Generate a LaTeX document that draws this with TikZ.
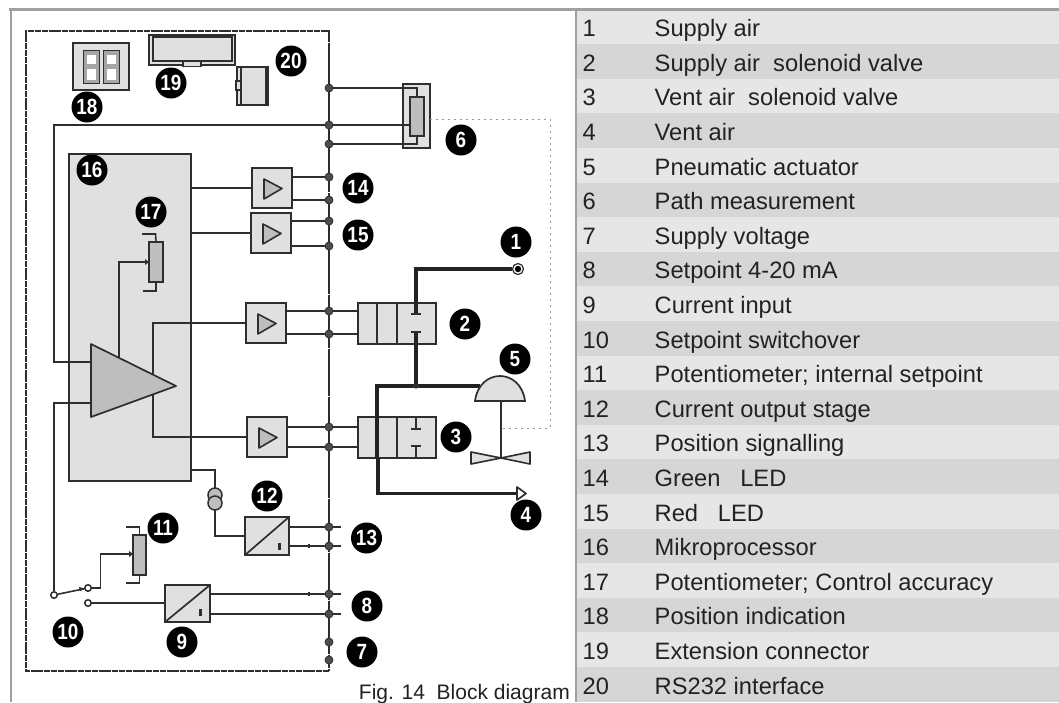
\documentclass[tikz,border=0pt]{standalone}
\usepackage{fontspec}
\setmainfont{Liberation Sans}
\newfontfamily\badgefont[FakeStretch=0.86]{Liberation Sans}
\usetikzlibrary{calc}
\definecolor{ink}{HTML}{2E2E2E}
\definecolor{blk}{HTML}{222222}
\definecolor{lg}{HTML}{E0E0E0}
\definecolor{mg}{HTML}{BEBEBE}
\definecolor{frm}{HTML}{A0A0A0}
\definecolor{rowa}{HTML}{E6E6E6}
\definecolor{rowb}{HTML}{D6D6D6}
\tikzset{
 wire/.style={draw=ink,line width=1.6pt},
 pipe/.style={draw=blk,line width=3.2pt},
 block/.style={draw=ink,line width=1.7pt,fill=lg,rectangle,inner sep=0pt,outer sep=0pt},
 resist/.style={draw=ink,line width=1.7pt,fill=mg,rectangle,inner sep=0pt,outer sep=0pt},
 badge/.style={circle,fill=black,text=white,minimum size=31pt,inner sep=0pt,font=\fontsize{22}{22}\selectfont\badgefont\bfseries},
 term/.style={circle,fill=ink!85,draw=ink,line width=0.8pt,minimum size=8pt,inner sep=0pt},
 openc/.style={circle,fill=white,draw=ink,line width=1.5pt,minimum size=6.5pt,inner sep=0pt},
 frame/.style={draw=frm,line width=2.5pt},
 rowtxt/.style={anchor=base west,text=blk,inner sep=0pt,font=\fontsize{23.7}{28}\selectfont},
 dot/.style={draw=gray!80,line width=1pt,dash pattern=on 2pt off 4pt},
 amptri/.style={draw=ink,line width=1.6pt,fill=mg,line join=round},
}
\newcommand{\boxat}[6]{\node[#6,minimum width=#3pt,minimum height=#4pt,anchor=north west] (#5) at (#1,#2) {};}
\begin{document}
\begin{tikzpicture}[x=1pt,y=-1pt]
\useasboundingbox (0,0) rectangle (1059,702);
\fill[white] (0,0) rectangle (1059,702);
% table
\foreach \i/\t [count=\n from 0] in {1/Supply air,2/Supply air~~solenoid valve,3/Vent air~~solenoid valve,4/Vent air,5/Pneumatic actuator,6/Path measurement,7/Supply voltage,8/Setpoint 4-20 mA,9/Current input,10/Setpoint switchover,11/Potentiometer; internal setpoint,12/Current output stage,13/Position signalling,14/Green~~~LED,15/Red~~~LED,16/Mikroprocessor,17/Potentiometer; Control accuracy,18/Position indication,19/Extension connector,20/RS232 interface}{
  \pgfmathsetmacro\yy{9.6+34.6*\n}
  \pgfmathsetmacro\yb{\yy+34.6}
  \pgfmathtruncatemacro\od{mod(\n,2)}
  \ifnum\od=0 \fill[rowa] (576,\yy) rectangle (1059,\yb);\else\fill[rowb] (576,\yy) rectangle (1059,\yb);\fi
  \pgfmathsetmacro\yt{\yy+27}
  \node[rowtxt] (num\i) at (582.5,\yt) {\i};
  \node[rowtxt] (lab\i) at (654.5,\yt) {\t};
}
\draw[frame] (9,9.5) -- (1059,9.5);
\draw[frame] (11,9.5) -- (11,702);
\draw[frame] (576,9.5) -- (576,702);
\node[anchor=base east,inner sep=0pt,text=blk,font=\fontsize{21}{24}\selectfont] (cap) at (570,699) {Fig. 14~~Block diagram};
% dashed enclosure
\draw[draw=ink,line width=2pt,dash pattern=on 6pt off 0.8pt] (329,671) -- (26,671) -- (26,31) -- (329,31) -- cycle;
% display 18
\boxat{73}{43}{56}{47}{disp}{block}
\foreach \xx/\nm in {83/a,103/b}{
  \node[draw=ink,line width=1.2pt,fill=gray!70,minimum width=16pt,minimum height=33pt,inner sep=0pt,anchor=north west] (dig\nm) at (\xx,50) {};
  \fill[white] (\xx+4,55) rectangle (\xx+13,64);
  \fill[white] (\xx+4,69) rectangle (\xx+13,79.5);
}
% connector 19
\boxat{149}{35}{86}{30}{ext}{block}
\node[block,line width=2pt,minimum width=79pt,minimum height=24pt,anchor=north west] (exti) at (153,37) {};
\node[block,minimum width=18pt,minimum height=5pt,anchor=north west] (tabb) at (183,61.5) {};
% interface 20
\boxat{237}{67}{31}{38}{rs}{block}
\draw[ink,line width=1.7pt] (241,67) -- (241,105);
\draw[ink,line width=1.7pt] (266,67) -- (266,105);
\node[block,minimum width=5pt,minimum height=9pt,anchor=north west] (rst) at (236,81) {};
% microprocessor
\boxat{69}{154}{122}{327}{mp}{block}
% terminal coordinates
\foreach \nm/\yy in {ta/88,tb/125,tc/144,td/177,te/200,tf/221,tg/246,th/311,ti/334,tj/427,tk/447,tl/527,tm/546,tn/594,to/614,tp/642,tq/660}{
  \coordinate (\nm) at (329,\yy);
}
% sensor 6
\boxat{403}{84}{27}{64}{sens}{block}
\boxat{410}{97}{14}{39}{sensr}{resist}
\draw[wire] (ta) -- (417,88) -- (sensr.north);
\draw[wire] (tc) -- (417,144) -- (sensr.south);
\coordinate (ml) at (54,125);
\coordinate (mi) at (54,362);
% amplifier triangle
\coordinate (tria) at (91,344);
\coordinate (trib) at (91,417);
\coordinate (tric) at (176,386);
\coordinate (inb) at (91,362);
\coordinate (ina) at (91,403);
\draw[wire] (sensr.west |- tb) -- (ml) -- (mi) -- (inb);
% driver amps
\boxat{252}{168}{40}{40}{ampa}{block}
\boxat{251}{213}{40}{40}{ampb}{block}
\boxat{246}{303}{40}{40}{ampc}{block}
\boxat{247}{417}{40}{40}{ampd}{block}
\draw[wire] (ampc.west) -| (153,375);
\draw[wire] (ampd.west) -| (153,394);
\draw[wire] (119,358) -- (119,262) -- (149,262);
\draw[amptri,line width=1.7pt] (tria) -- (tric) -- (trib) -- cycle;
\foreach \a in {ampa,ampb,ampc,ampd}{
  \draw[amptri] ($(\a.north west)+(12,11)$) -- ($(\a.north west)+(30,20.5)$) -- ($(\a.north west)+(12,31)$) -- cycle;
}
\draw[wire] (mp.east |- ampa.west) -- (ampa.west);
\draw[wire] (mp.east |- ampb.west) -- (ampb.west);
\draw[wire] (ampa.east |- td) -- (td);
\draw[wire] (ampa.east |- te) -- (te);
\draw[wire] (ampb.east |- tf) -- (tf);
\draw[wire] (ampb.east |- tg) -- (tg);
% valves
\boxat{358}{303}{78}{41}{vala}{block}
\boxat{358}{417}{78}{41}{valb}{block}
\foreach \v in {vala,valb}{
  \draw[ink,line width=1.7pt] ($(\v.north west)+(39,0)$) -- ($(\v.south west)+(39,0)$);
}
\draw[ink,line width=1.7pt] ($(vala.north west)+(19,0)$) -- ($(vala.south west)+(19,0)$);
\draw[wire] (ampc.east |- th) -- (vala.west |- th);
\draw[wire] (ampc.east |- ti) -- (vala.west |- ti);
\draw[wire] (ampd.east |- tj) -- (valb.west |- tj);
\draw[wire] (ampd.east |- tk) -- (valb.west |- tk);
% potentiometer 17
\boxat{149}{242}{14}{40}{potb}{resist}
\fill[ink] (149,262) -- (145,259) -- (145,265) -- cycle;
\draw[wire] (potb.north) -- (155.5,234) -- (142,234);
\draw[wire] (potb.south) -- (156,291) -- (143,291);
% pneumatics
\node[openc,line width=1.2pt,minimum size=11pt] (air) at (518,269) {};
\fill[black] (air) circle (3.2pt);
\coordinate (joint) at (416,386);
\draw[pipe] (air.west) -- (416,269) -- (416,314);
\draw[pipe] (416,332) -- (joint);
\draw[ink,line width=1.7pt] (411,314) -- (421,314) (411,332) -- (421,332);
\draw[ink,line width=1.7pt] (416,417) -- (416,429) (411,429) -- (421,429) (411,446) -- (421,446) (416,446) -- (416,458);
\coordinate (dome) at (480,386);
\draw[pipe] (377,458) -- (377,386) -- (dome);
\fill[ink] (joint) circle (2.6pt);
\draw[pipe] (378,458) -- (378,493.5) -- (517,493.5);
\draw[ink,line width=1.7pt,fill=white,line join=round] (517,487) -- (526,493.5) -- (517,500) -- cycle;
% actuator 5
\draw[ink,line width=1.7pt,fill=lg] (475,401) .. controls (477,385) and (488,376) .. (500,376) .. controls (512,376) and (523,385) .. (525,401) -- cycle;
\coordinate (vc) at (501,458);
\draw[wire] (501,401) -- (vc);
\draw[ink,line width=1.6pt,fill=lg,line join=round] (vc) -- (471,452) -- (471,464) -- cycle;
\draw[ink,line width=1.6pt,fill=lg,line join=round] (vc) -- (530,452) -- (530,464) -- cycle;
% path feedback
\draw[dot] (sens.east |- 0,119) -- (550,119) -- (550,428) -- (503,428);
% current output
\coordinate (ct) at (215,470);
\draw[wire] (191,470) -- (ct) -- (215,490);
\draw[ink,line width=1.5pt,fill=mg] (215,495) circle (7pt);
\draw[ink,line width=1.5pt,fill=mg] (215,503) circle (7pt);
\boxat{245}{517}{44}{38}{conva}{block}
\draw[wire] (215,510) |- (conva.west);
\draw[ink,line width=1.7pt] (conva.south west) -- (conva.north east);
\fill[ink] (277.5,543) rectangle (280.5,550);
\draw[wire] (conva.east |- tl) -- (341,527);
\draw[wire] (conva.east |- tm) -- (341,546);
% potentiometer 11
\boxat{133}{535}{13}{40}{potc}{resist}
\draw[wire] (potc.north) -- (139.5,527) -- (126,527);
\draw[wire] (potc.south) -- (139.5,583) -- (126,583);
\coordinate (swl) at (54,403);
\node[openc] (swa) at (88,588) {};
\node[openc] (swb) at (88,603) {};
\node[openc] (swc) at (54,595) {};
\draw[wire] (ina) -- (swl) -- (swc);
\draw[wire] (swc) -- (swa);
\fill[ink] (85,588.5) -- (79,587) -- (80,591) -- cycle;
\draw[wire] (swa) -- (100.5,588) -- (100.5,554) -- (133,554);
\fill[ink] (133,554) -- (129,551) -- (129,557) -- cycle;
% converter 9
\boxat{165}{585}{45}{37}{convb}{block}
\draw[ink,line width=1.7pt] (convb.south west) -- (convb.north east);
\fill[ink] (199,609) rectangle (202,616);
\draw[wire] (swb) -- (convb.west |- swb);
\draw[wire] (convb.east |- tn) -- (341,594);
\draw[wire] (convb.east |- to) -- (341,614);
\fill[ink] (308,592) rectangle (309.5,596);
\fill[ink] (308,544) rectangle (309.5,548);
% terminals
\draw[ink,line width=1.6pt,dash pattern=on 5pt off 1pt] (329,660) -- (329,31);
\foreach \nm in {ta,tb,tc,td,te,tf,tg,th,ti,tj,tk,tl,tm,tn,to,tp,tq}{
  \node[term] at (\nm) {};
}
% badges
\foreach \t/\x/\y in {1/516/242,2/465/324,3/456/437,4/526/515,5/515/359,6/461/140,7/362/652,8/367/606,9/182/642,10/68/632,11/163/528,12/267/496,13/366.5/538,14/358/188,15/358/235,16/92/170,17/151/212,18/87/107,19/171/83,20/291/61}{
  \node[badge] (b\t) at (\x,\y) {\t};
}
\end{tikzpicture}
\end{document}
